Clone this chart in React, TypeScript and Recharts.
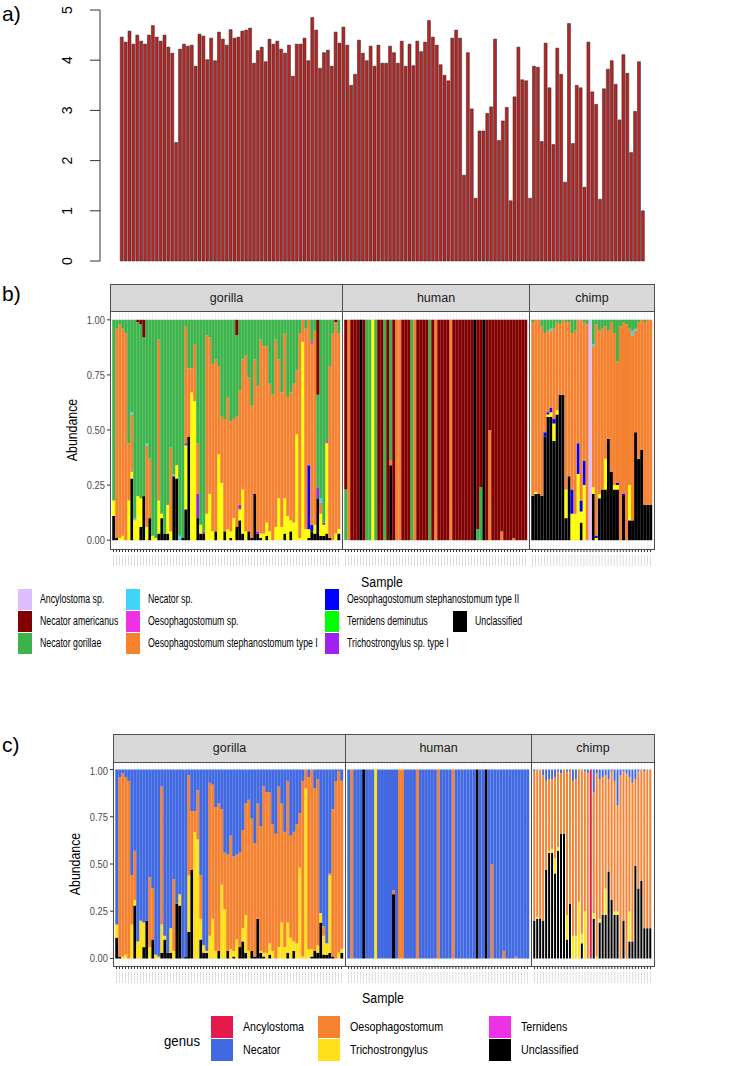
import { BarChart, Bar, XAxis, YAxis, CartesianGrid } from "recharts";

const SANS = "'Liberation Sans', Arial, sans-serif";

// a) per-sample diversity
const diversity = [
  4.46, 4.36, 4.58, 4.32, 4.5, 4.38, 4.32, 4.5, 4.69, 4.46, 4.38, 4.5, 4.26, 4.14, 2.36,
  4.22, 4.32, 4.28, 4.3, 3.88, 4.52, 4.48, 4.01, 4.44, 3.99, 4.56, 4.42, 4.3, 4.61, 4.44,
  4.46, 4.58, 4.6, 4.64, 3.94, 4.19, 4.26, 3.97, 4.42, 4.32, 4.38, 4.22, 4.14, 4.3,
  3.68, 4.32, 4.32, 4.44, 3.99, 4.85, 4.6, 3.84, 4.15, 4.2, 3.88, 4.56, 4.34, 4.66, 4.3,
  3.5, 3.72, 4.4, 4.14, 3.99, 4.28, 3.88, 4.3, 3.94, 3.94, 4.28, 4.15, 3.94, 4.38, 3.88,
  4.32, 3.89, 4.38, 4.17, 4.36, 4.79, 4.46, 4.3, 3.91, 3.7, 3.59, 4.44, 4.6, 4.44, 1.71, 4.15,
  3.03, 1.25, 2.59, 2.59, 2.94, 3.07, 4.42, 2.4, 2.79, 3.06, 1.2, 3.27, 4.26, 3.61, 3.59,
  1.25, 3.88, 3.86, 2.38, 4.34, 3.45, 2.32, 4.24, 3.72, 1.57, 4.73, 2.34, 3.5, 3.45, 1.47,
  4.36, 3.37, 3.12, 1.23, 3.43, 3.82, 3.99, 3.52, 2.81, 4.11, 3.74, 2.16, 2.98, 3.97, 1.0,
];

// b) relative abundance per species, one array per host (76 gorilla, 61 human, 40 chimp)
const gorillaUnc = [
  .11, .01, 0, 0, 0, 0, .28, 0, 0, .06,
  .2, 0, .1, 0, 0, .03, .1, .03, .03, 0,
  .29, .28, 0, .01, .14, .47, 0, 0, .1, .03,
  .03, 0, 0, 0, .04, 0, 0, .04, 0, .01,
  0, .06, .09, .03, 0, .04, .01, .21, .03, .01,
  0, .02, 0, 0, 0, 0, 0, .03, 0, .04,
  0, 0, 0, 0, 0, .01, .04, .03, .19, .02,
  .02, .03, .01, 0, 0, .03,
];
const gorillaYel = [
  .07, 0, .01, .02, 0, .18, .03, .09, .2, .13,
  0, .06, 0, .02, .01, .15, .02, 0, .13, .04,
  0, .06, 0, 0, .29, 0, .67, .63, 0, .04,
  0, .12, .21, .04, 0, .39, .26, 0, .05, .03,
  .1, 0, .05, .2, .04, 0, 0, 0, 0, .02,
  .03, .06, .04, 0, .06, .19, .06, .16, .11, .05,
  .08, .48, .01, .9, .05, .04, 0, .04, 0, .1,
  .05, .41, 0, 0, .03, .02,
];
const gorillaPur = [
  0, 0, 0, 0, 0, 0, 0, 0, 0, 0,
  0, 0, 0, 0, 0, 0, 0, 0, 0, 0,
  0, 0, 0, 0, .01, 0, 0, 0, .11, 0,
  .01, 0, 0, 0, 0, 0, 0, 0, 0, 0,
  0, 0, .02, 0, 0, 0, 0, 0, .01, 0,
  0, 0, 0, 0, 0, 0, 0, 0, 0, 0,
  0, 0, 0, 0, 0, 0, 0, 0, .05, 0,
  .01, 0, 0, 0, 0, 0,
];
const gorillaBlu = [
  0, 0, 0, 0, 0, 0, 0, 0, 0, 0,
  0, 0, 0, 0, 0, 0, 0, 0, 0, 0,
  0, 0, 0, 0, 0, 0, 0, 0, 0, 0,
  0, 0, 0, 0, 0, 0, 0, 0, 0, 0,
  0, 0, 0, 0, 0, 0, 0, 0, 0, 0,
  0, 0, 0, 0, 0, 0, 0, 0, 0, 0,
  0, 0, 0, 0, 0, .29, .03, 0, 0, 0,
  0, 0, 0, 0, 0, 0,
];
const gorillaOra = [
  0, .95, .97, .94, .94, .26, .26, 0, 0, 0,
  0, .37, .27, 0, 0, .73, 0, 0, 0, .38,
  0, 0, 0, 0, .53, .31, .11, .26, .23, 0,
  0, .81, .71, .76, .78, .4, .3, .51, .6, .5,
  .45, .5, .52, .59, .8, .7, .6, .61, .66, .88,
  .85, .8, .67, .66, .85, .63, .61, .75, .54, .58,
  .63, .29, .93, .1, .91, .66, .82, .88, 0, .05,
  0, 0, .78, .94, .96, .89,
];
const gorillaMag = [
  0, 0, 0, 0, 0, 0, 0, 0, 0, 0,
  0, 0, 0, 0, 0, 0, 0, 0, 0, 0,
  0, 0, 0, 0, 0, 0, 0, 0, 0, 0,
  0, 0, 0, 0, 0, 0, 0, 0, 0, 0,
  0, 0, 0, 0, 0, 0, 0, 0, 0, 0,
  0, 0, 0, 0, 0, 0, 0, 0, 0, 0,
  0, 0, 0, 0, 0, 0, .01, 0, 0, 0,
  0, .01, 0, 0, 0, 0,
];
const gorillaCya = [
  0, 0, 0, 0, 0, 0, .01, .01, 0, 0,
  0, .01, 0, 0, 0, 0, 0, 0, 0, 0,
  .01, 0, .02, 0, 0, 0, 0, 0, 0, 0,
  0, 0, 0, 0, 0, 0, 0, 0, 0, 0,
  0, 0, 0, 0, 0, 0, 0, 0, 0, 0,
  0, 0, 0, 0, 0, 0, 0, 0, 0, 0,
  0, 0, 0, 0, 0, 0, 0, 0, 0, .02,
  0, 0, 0, 0, 0, 0,
];
const gorillaGrn = [
  .82, .04, .02, .04, .06, .56, .42, .9, .79, .79,
  .72, .56, .63, .98, .99, .09, .88, .97, .84, .58,
  .7, .66, .98, .99, .03, .22, .22, .11, .56, .93,
  .96, .07, .08, .2, .18, .21, .44, .45, .35, .46,
  .45, .37, .32, .18, .16, .26, .39, .18, .3, .09,
  .12, .12, .29, .34, .09, .18, .33, .06, .35, .33,
  .29, .23, .06, 0, .04, 0, .1, .05, .42, .81,
  .92, .55, .21, .06, 0, .06,
];
const gorillaMar = [
  0, 0, 0, 0, 0, 0, 0, 0, .01, .02,
  .08, 0, 0, 0, 0, 0, 0, 0, 0, 0,
  0, 0, 0, 0, 0, 0, 0, 0, 0, 0,
  0, 0, 0, 0, 0, 0, 0, 0, 0, 0,
  0, .07, 0, 0, 0, 0, 0, 0, 0, 0,
  0, 0, 0, 0, 0, 0, 0, 0, 0, 0,
  0, 0, 0, 0, 0, 0, 0, 0, .34, 0,
  0, 0, 0, 0, .01, 0,
];

const humanUnc = [
  0, 0, 0, 0, 0, 1, 0, 0, 0, 0,
  0, 0, 0, 0, 0, .34, 0, 0, 0, 0,
  0, 0, 0, 0, 0, 0, 0, 0, 0, 0,
  0, 0, 0, 0, 0, 0, 0, 0, 0, 0,
  0, 0, 0, 1, 0, 0, 1, 0, 0, 0,
  0, 0, 0, 0, 0, 0, 0, 0, 0, 0,
  0,
];
const humanYel = [
  0, 0, 0, 0, 0, 0, 0, 0, 0, 1,
  0, 0, 0, 0, 0, 0, 0, 0, 0, 0,
  0, 0, 0, 0, 0, 0, 0, 0, 0, 0,
  0, 0, 0, 0, 0, 0, 0, 0, 0, 0,
  0, 0, 0, 0, 0, 0, 0, 0, 0, 0,
  0, 0, 0, 0, 0, 0, 0, 0, 0, 0,
  0,
];
const humanOra = [
  0, 1, 0, 0, 0, 0, 0, 0, 0, 0,
  0, 0, 0, 0, 0, .02, 0, 1, 1, 0,
  0, 0, 0, 1, 0, 0, 0, 0, 0, 0,
  1, 0, 0, 0, 0, 1, 0, 0, 0, 0,
  0, 0, 0, 0, 0, 0, 0, 0, .5, 0,
  0, 0, .04, 0, 0, 0, .01, 0, 0, 0,
  0,
];
const humanGrn = [
  .23, 0, 0, 0, 0, 0, 0, 1, 1, 0,
  1, 0, 0, 1, 0, .64, 0, 0, 0, 0,
  0, 0, 1, 0, 0, 0, 0, 0, 1, 0,
  0, 0, 0, 0, 0, 0, 0, 0, 0, 0,
  0, 0, 0, 0, .05, .24, 0, 0, 0, 0,
  0, 0, 0, 0, 0, 0, 0, 0, 0, 0,
  0,
];
const humanMar = [
  .77, 0, 1, 1, 1, 0, 1, 0, 0, 0,
  0, 1, 1, 0, 1, 0, 1, 0, 0, 1,
  1, 1, 0, 0, 1, 1, 1, 1, 0, 1,
  0, 1, 1, 1, 1, 0, 1, 1, 1, 1,
  1, 1, 1, 0, .95, .76, 0, 1, .5, 1,
  1, 1, .96, 1, 1, 1, .99, 1, 1, 1,
  1,
];

const chimpUnc = [
  .2, .21, .21, .2, .47, .56, .56, .45, .57, .66,
  .66, .1, .29, 0, 0, 0, .08, 0, 0, 0,
  .21, 0, .19, .23, .23, .46, .31, .23, .23, 0,
  .2, 0, .09, .09, .49, .37, .41, .16, .16, .16,
];
const chimpYel = [
  0, .01, 0, 0, 0, .01, .02, .08, .02, 0,
  0, .13, 0, .12, .12, .3, .05, .25, 0, 0,
  .03, .01, .02, 0, .14, 0, 0, .02, .02, 0,
  0, 0, .16, 0, 0, 0, 0, 0, 0, 0,
];
const chimpBlu = [
  0, 0, 0, 0, .02, .01, .02, .02, 0, 0,
  0, 0, 0, .11, 0, .14, .05, .11, 0, 0,
  0, .01, 0, 0, 0, 0, 0, 0, .01, 0,
  .01, 0, 0, 0, 0, 0, 0, 0, 0, 0,
];
const chimpOra = [
  .79, .78, .79, .77, .45, .37, .35, .41, .4, .32,
  .34, .76, .7, .71, .83, .56, .82, .63, .98, 0,
  .64, .96, .74, .73, .6, .49, .68, .69, .55, .97,
  .78, .98, .71, .84, .46, .62, .59, .83, .84, .84,
];
const chimpCya = [
  0, 0, 0, 0, 0, 0, .01, 0, 0, 0,
  0, 0, 0, 0, 0, 0, 0, 0, 0, 0,
  .01, 0, 0, 0, 0, 0, 0, 0, 0, 0,
  0, 0, 0, .02, .01, 0, 0, 0, 0, 0,
];
const chimpGrn = [
  .01, 0, 0, .03, .06, .05, .04, .04, .01, .02,
  0, .01, .01, .06, .05, 0, 0, .01, .02, 0,
  .11, .02, .05, .04, .03, .05, .01, .06, .19, .03,
  .01, .02, .04, .05, .04, .01, 0, .01, 0, 0,
];
const chimpLav = [
  0, 0, 0, 0, 0, 0, 0, 0, 0, 0,
  0, 0, 0, 0, 0, 0, 0, 0, 0, 1,
  0, 0, 0, 0, 0, 0, 0, 0, 0, 0,
  0, 0, 0, 0, 0, 0, 0, 0, 0, 0,
];

// stacking order, bottom to top
const SPECIES = [
  { key: "unc", label: "Unclassified", color: "#000000" },
  { key: "yel", label: "Trichostrongylus sp.", color: "#FFFF00" },
  { key: "pur", label: "Trichostrongylus sp. type I", color: "#A020F0" },
  { key: "ter", label: "Ternidens deminutus", color: "#00FF00" },
  { key: "blu", label: "Oesophagostomum stephanostomum type II", color: "#0000FF" },
  { key: "ora", label: "Oesophagostomum stephanostomum type I", color: "#F58231" },
  { key: "mag", label: "Oesophagostomum sp.", color: "#F032E6" },
  { key: "cya", label: "Necator sp.", color: "#42D4F4" },
  { key: "grn", label: "Necator gorillae", color: "#3CB44B" },
  { key: "mar", label: "Necator americanus", color: "#800000" },
  { key: "lav", label: "Ancylostoma sp.", color: "#DCBEFF" },
];

const GENUS = [
  { key: "Unclassified", color: "#000000", from: ["unc"] },
  { key: "Trichostrongylus", color: "#FFE119", from: ["yel", "pur"] },
  { key: "Ternidens", color: "#F032E6", from: ["ter"] },
  { key: "Oesophagostomum", color: "#F58231", from: ["blu", "ora", "mag"] },
  { key: "Necator", color: "#4169E1", from: ["cya", "grn", "mar"] },
  { key: "Ancylostoma", color: "#E6194B", from: ["lav"] },
];

const LEGEND_B = [
  ["lav", "mar", "grn"],
  ["cya", "mag", "ora"],
  ["blu", "ter", "pur"],
];
const LEGEND_C = [
  ["Ancylostoma", "Necator"],
  ["Oesophagostomum", "Trichostrongylus"],
  ["Ternidens", "Unclassified"],
];

type Row = { [k: string]: number | string };

function buildRows(host: string, series: Record<string, number[]>): Row[] {
  const n = Object.values(series)[0].length;
  return Array.from({ length: n }, (_, i) => {
    const r: Row = { id: `${host}${i + 1}` };
    SPECIES.forEach((s) => (r[s.key] = series[s.key]?.[i] ?? 0));
    return r;
  });
}

function toGenus(rows: Row[]): Row[] {
  return rows.map((r) => {
    const o: Row = { id: r.id };
    GENUS.forEach((g) => {
      o[g.key] = g.from.reduce((s, k) => s + Number(r[k] ?? 0), 0);
    });
    return o;
  });
}

const gorillaRows = buildRows("g", {
  unc: gorillaUnc, yel: gorillaYel, pur: gorillaPur, blu: gorillaBlu, ora: gorillaOra,
  mag: gorillaMag, cya: gorillaCya, grn: gorillaGrn, mar: gorillaMar,
});
const humanRows = buildRows("h", {
  unc: humanUnc, yel: humanYel, ora: humanOra, grn: humanGrn, mar: humanMar,
});
const chimpRows = buildRows("c", {
  unc: chimpUnc, yel: chimpYel, blu: chimpBlu, ora: chimpOra, cya: chimpCya,
  grn: chimpGrn, lav: chimpLav,
});

const diversityRows = diversity.map((v, i) => ({ id: i + 1, value: v }));

const HOSTS = ["gorilla", "human", "chimp"];

const sampleTick = (p: any) => (
  <line x1={p.x} x2={p.x} y1={p.y + 1} y2={p.y + 12} stroke="#c8c8c8" strokeWidth={0.6} />
);

const yTickB = (p: any) => (
  <text x={p.x} y={p.y} dy={4} textAnchor="end" fontSize={11} fontFamily={SANS} fill="#4d4d4d"
    transform={`translate(${p.x} 0) scale(0.85 1) translate(${-p.x} 0)`}>
    {Number(p.payload.value).toFixed(2)}
  </text>
);

function Facet({
  rows, series, left, top, width, height, showY,
}: {
  rows: Row[];
  series: { key: string; color: string }[];
  left: number;
  top: number;
  width: number;
  height: number;
  showY: boolean;
}) {
  const yw = showY ? 32 : 0;
  return (
    <div style={{ position: "absolute", left: left - yw, top }}>
      <BarChart
        width={width + yw}
        height={height + 20}
        data={rows}
        margin={{ top: 0, right: 0, bottom: 0, left: 0 }}
        barCategoryGap="8%"
      >
        <CartesianGrid stroke="#ebebeb" strokeWidth={0.6} />
        <XAxis
          dataKey="id"
          interval={0}
          height={20}
          tickSize={3}
          axisLine={false}
          tickLine={{ stroke: "#333" }}
          tick={sampleTick}
          padding={{ left: 2, right: 2 }}
        />
        <YAxis
          hide={!showY}
          width={yw}
          domain={[-0.04, 1.04]}
          ticks={[0, 0.25, 0.5, 0.75, 1]}
          allowDataOverflow
          tick={yTickB}
          tickSize={3}
          tickLine={{ stroke: "#333" }}
          axisLine={false}
        />
        {series.map((s) => (
          <Bar key={s.key} dataKey={s.key} stackId="s" fill={s.color} isAnimationActive={false} />
        ))}
      </BarChart>
    </div>
  );
}

function FacetPanel({
  rowsList, series, lefts, widths, stripTop, stripH, top, height,
}: {
  rowsList: Row[][];
  series: { key: string; color: string }[];
  lefts: number[];
  widths: number[];
  stripTop: number;
  stripH: number;
  top: number;
  height: number;
}) {
  return (
    <>
      {rowsList.map((rows, i) => (
        <Facet
          key={i}
          rows={rows}
          series={series}
          left={lefts[i]}
          top={top}
          width={widths[i]}
          height={height}
          showY={i === 0}
        />
      ))}
      {HOSTS.map((h, i) => (
        <div
          key={h}
          style={{
            position: "absolute", left: lefts[i], top: stripTop, width: widths[i] + 1, height: stripH + 1,
            boxSizing: "border-box", background: "#d9d9d9", border: "1px solid #4d4d4d",
            fontFamily: SANS, fontSize: 12.5, color: "#1a1a1a", textAlign: "center", lineHeight: `${stripH - 1}px`,
          }}
        >
          {h}
        </div>
      ))}
      {HOSTS.map((h, i) => (
        <div
          key={h + "-b"}
          style={{
            position: "absolute", left: lefts[i], top: top, width: widths[i] + 1, height: height + 1,
            boxSizing: "border-box", border: "1px solid #4d4d4d", pointerEvents: "none",
          }}
        />
      ))}
    </>
  );
}

const yTickA = (p: any) => (
  <text
    x={72}
    y={p.y}
    transform={`rotate(-90 72 ${p.y})`}
    textAnchor="middle"
    fontSize={14}
    fontFamily={SANS}
    fill="#000"
  >
    {p.payload.value}
  </text>
);

function Text({ x, y, size, children, rotate }: any) {
  return (
    <div
      style={{
        position: "absolute", left: x, top: y, fontSize: size, fontFamily: SANS, color: "#000",
        whiteSpace: "nowrap",
        transform: `translate(-50%, -50%)${rotate ? " rotate(-90deg)" : ""} scaleX(0.88)`,
      }}
    >
      {children}
    </div>
  );
}

function Swatch({ x, y, w, h, color, label, tx, size, squeeze }: any) {
  return (
    <>
      <div style={{ position: "absolute", left: x, top: y, width: w, height: h, background: color }} />
      <div
        style={{
          position: "absolute", left: tx, top: y, height: h, lineHeight: `${h}px`, fontSize: size,
          fontFamily: SANS, color: "#000", whiteSpace: "nowrap",
          transform: `scaleX(${squeeze})`, transformOrigin: "left center",
        }}
      >
        {label}
      </div>
    </>
  );
}

export default function App() {
  const sp = (k: string) => SPECIES.find((s) => s.key === k)!;
  const gColor = (k: string) => GENUS.find((g) => g.key === k)!.color;
  const colXb = [18, 126, 325];
  const colXc = [211, 318, 489];
  return (
    <div style={{ position: "absolute", left: 0, top: 0, width: 750, height: 1066, background: "#fff", overflow: "hidden" }}>
      {/* a) */}
      <div style={{ position: "absolute", left: 2, top: 2, fontFamily: SANS, fontSize: 21 }}>a)</div>
      <div style={{ position: "absolute", left: 0, top: 0 }}>
        <BarChart width={750} height={270} data={diversityRows} margin={{ top: 10, right: 100, bottom: 9, left: 60 }} barCategoryGap="6%">
          <XAxis dataKey="id" hide padding={{ left: 20, right: 5 }} />
          <YAxis
            width={40}
            domain={[0, 5]}
            ticks={[0, 1, 2, 3, 4, 5]}
            tickSize={10}
            tick={yTickA}
            axisLine={{ stroke: "#333" }}
            tickLine={{ stroke: "#333" }}
          />
          <Bar dataKey="value" fill="#B82525" stroke="#222" strokeWidth={0.5} isAnimationActive={false} />
        </BarChart>
      </div>

      {/* b) */}
      <div style={{ position: "absolute", left: 2, top: 282, fontFamily: SANS, fontSize: 21 }}>b)</div>
      <FacetPanel
        rowsList={[gorillaRows, humanRows, chimpRows]}
        series={SPECIES}
        lefts={[110, 342, 529]}
        widths={[232, 187, 125]}
        stripTop={284}
        stripH={27}
        top={311}
        height={238}
      />
      <Text x={72} y={430} size={14} rotate>Abundance</Text>
      <Text x={382} y={582} size={14}>Sample</Text>
      {LEGEND_B.map((col, c) =>
        col.map((k, r) => (
          <Swatch key={k} x={colXb[c]} y={589 + r * 22} w={14} h={21} color={sp(k).color} label={sp(k).label}
            tx={colXb[c] + 22} size={12.5} squeeze={0.7} />
        ))
      )}
      <Swatch x={453} y={611} w={14} h={21} color="#000" label="Unclassified" tx={475} size={12.5} squeeze={0.7} />

      {/* c) */}
      <div style={{ position: "absolute", left: 2, top: 733, fontFamily: SANS, fontSize: 21 }}>c)</div>
      <FacetPanel
        rowsList={[toGenus(gorillaRows), toGenus(humanRows), toGenus(chimpRows)]}
        series={GENUS}
        lefts={[113, 345, 531]}
        widths={[232, 186, 123]}
        stripTop={734}
        stripH={28}
        top={762}
        height={204}
      />
      <Text x={75} y={864} size={14} rotate>Abundance</Text>
      <Text x={383} y={998} size={14}>Sample</Text>
      <Text x={182} y={1040} size={15}>genus</Text>
      {LEGEND_C.map((col, c) =>
        col.map((k, r) => (
          <Swatch key={k} x={colXc[c]} y={1016 + r * 23} w={22} h={22} color={gColor(k)} label={k}
            tx={colXc[c] + 32} size={13} squeeze={0.82} />
        ))
      )}
    </div>
  );
}
